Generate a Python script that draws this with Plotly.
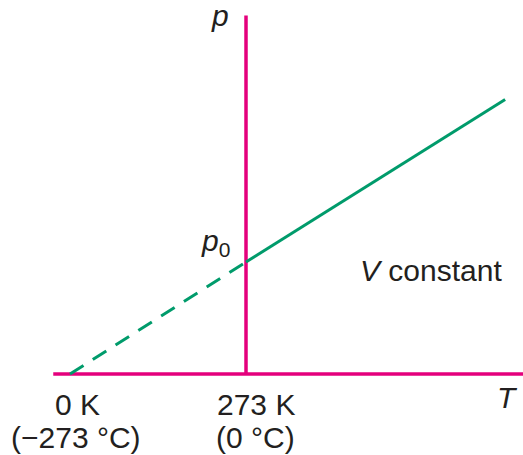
import plotly.graph_objects as go

# kelvin temperatures and pressures (p in units of p0)
extrap_T = [0, 273]
extrap_p = [0, 1]
meas_T = [273, 675]
meas_p = [1, 2.45]
axis_T = [-26, 703]
axis_p_top = 3.2

MAGENTA = "#e4007c"
GREEN = "#009b6b"
INK = "#231f20"
FONT = "Liberation Sans, Arial, sans-serif"

fig = go.Figure()
# axes drawn as traces: T axis along p = 0, p axis standing at 273 K
fig.add_trace(go.Scatter(x=axis_T, y=[0, 0], mode="lines",
                         line=dict(color=MAGENTA, width=3.5)))
fig.add_trace(go.Scatter(x=[273, 273], y=[0, axis_p_top], mode="lines",
                         line=dict(color=MAGENTA, width=3.5)))
fig.add_trace(go.Scatter(x=extrap_T, y=extrap_p, mode="lines",
                         line=dict(color=GREEN, width=3, dash="16px,11px")))
fig.add_trace(go.Scatter(x=meas_T, y=meas_p, mode="lines",
                         line=dict(color=GREEN, width=3)))

labels = [
    ("<i>p</i>", 232, 3.2),
    ("<i>p</i><sub>0</sub>", 226, 1.17),
    ("<i>V</i> constant", 560, 0.92),
    ("<i>T</i>", 678, -0.21),
    ("0 K", 11, -0.27),
    ("(\u2212273 \u00b0C)", 9, -0.565),
    ("273 K", 288, -0.27),
    ("(0 \u00b0C)", 288, -0.565),
]
for text, x, y in labels:
    fig.add_annotation(text=text, x=x, y=y, xref="x", yref="y", showarrow=False,
                       xanchor="center", yanchor="middle",
                       font=dict(family=FONT, size=30, color=INK))

fig.update_layout(
    width=523, height=455,
    margin=dict(l=0, r=0, t=0, b=0),
    paper_bgcolor="white", plot_bgcolor="white",
    showlegend=False,
    xaxis=dict(range=[-108.6, 702.7], visible=False),
    yaxis=dict(range=[-0.723, 3.339], visible=False),
)
fig.write_html("out.html", config={"displayModeBar": False},
               post_script="document.body.style.margin = '0';")
